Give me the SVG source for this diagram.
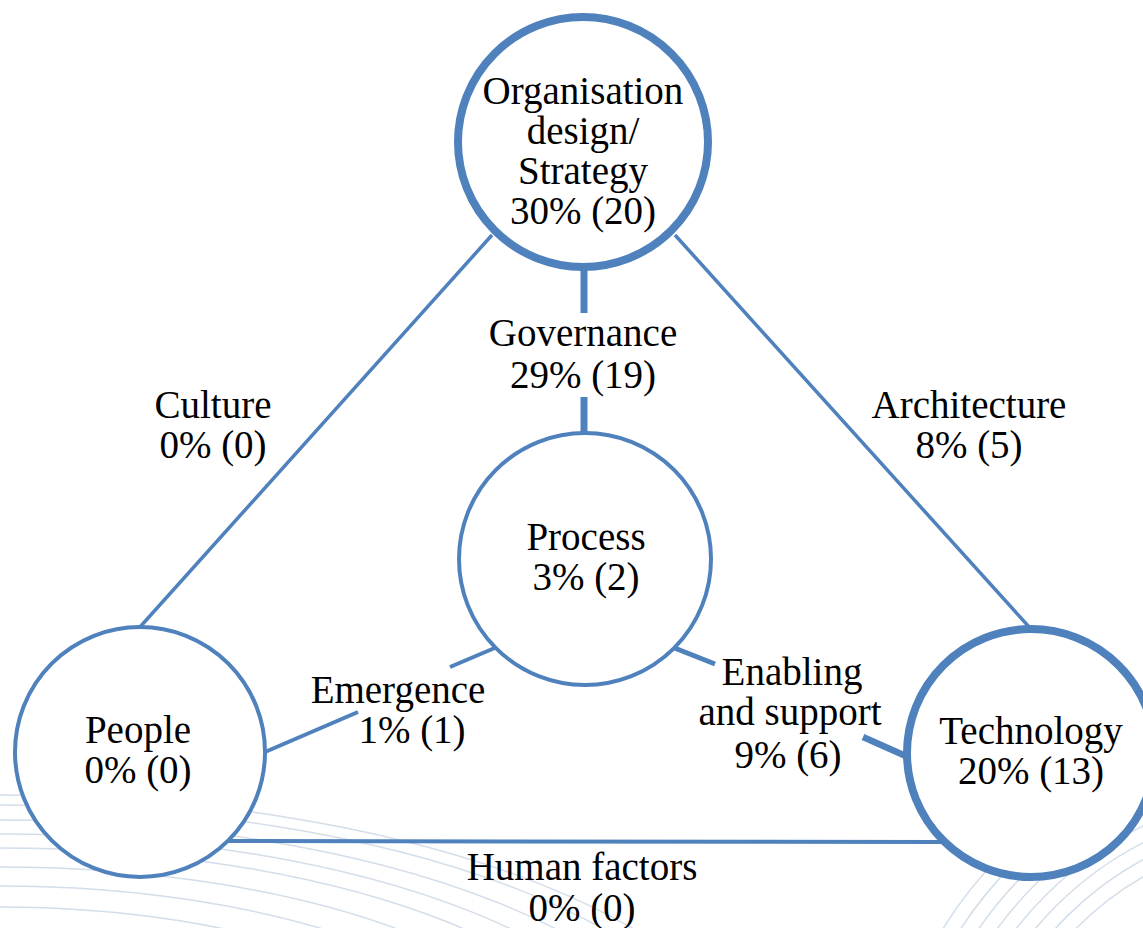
<svg xmlns="http://www.w3.org/2000/svg" width="1143" height="928" viewBox="0 0 1143 928">
<style>
.bg{fill:none;stroke:#d3deea;stroke-width:1.5}
.c{fill:#ffffff;stroke:#4f81bd}
.e{stroke:#4f81bd;fill:none}
.t{font-family:'Liberation Serif','DejaVu Serif',serif;font-size:39px;fill:#000000;text-anchor:middle}
</style>
<rect width="1143" height="928" fill="#ffffff"/>
<g id="background">
<ellipse class="bg" cx="0" cy="1100" rx="765" ry="305"/>
<ellipse class="bg" cx="0" cy="1100" rx="740" ry="295"/>
<ellipse class="bg" cx="0" cy="1100" rx="702" ry="280"/>
<ellipse class="bg" cx="0" cy="1100" rx="667" ry="266"/>
<ellipse class="bg" cx="0" cy="1100" rx="632" ry="252"/>
<ellipse class="bg" cx="0" cy="1100" rx="585" ry="233"/>
<ellipse class="bg" cx="0" cy="1100" rx="537" ry="214"/>
<ellipse class="bg" cx="0" cy="1100" rx="484" ry="193"/>
<circle class="bg" cx="1300" cy="1150" r="420"/>
<circle class="bg" cx="1300" cy="1150" r="405"/>
<circle class="bg" cx="1300" cy="1150" r="390"/>
<circle class="bg" cx="1300" cy="1150" r="375"/>
<circle class="bg" cx="1300" cy="1150" r="360"/>
<circle class="bg" cx="1300" cy="1150" r="345"/>
<circle class="bg" cx="1300" cy="1150" r="330"/>
<circle class="bg" cx="1300" cy="1150" r="315"/>
</g>
<g id="connectors">
<line class="e" x1="492" y1="235" x2="140" y2="627" stroke-width="3.5"/>
<line class="e" x1="675" y1="235" x2="1030" y2="628" stroke-width="3.5"/>
<line class="e" x1="584" y1="265" x2="584" y2="313" stroke-width="7"/>
<line class="e" x1="584" y1="397" x2="584" y2="436" stroke-width="7"/>
<line class="e" x1="265" y1="752" x2="358" y2="712" stroke-width="4"/>
<line class="e" x1="450" y1="667" x2="497" y2="647" stroke-width="4"/>
<line class="e" x1="672" y1="647" x2="715" y2="664" stroke-width="5"/>
<line class="e" x1="863" y1="737" x2="908" y2="757" stroke-width="6.5"/>
<line class="e" x1="226" y1="841" x2="943" y2="842" stroke-width="4"/>
</g>
<g id="node-organisation">
<circle class="c" cx="583" cy="142" r="125" stroke-width="8"/>
<text class="t" x="583" y="104">Organisation</text>
<text class="t" x="583" y="144">design/</text>
<text class="t" x="583" y="184">Strategy</text>
<text class="t" x="583" y="224">30% (20)</text>
</g>
<g id="node-process">
<circle class="c" cx="585" cy="559" r="126" stroke-width="4"/>
<text class="t" x="586" y="550">Process</text>
<text class="t" x="586" y="590">3% (2)</text>
</g>
<g id="node-people">
<circle class="c" cx="140" cy="752" r="125" stroke-width="4"/>
<text class="t" x="138" y="743">People</text>
<text class="t" x="138" y="783">0% (0)</text>
</g>
<g id="node-technology">
<circle class="c" cx="1031" cy="753" r="124" stroke-width="8"/>
<text class="t" x="1031" y="744">Technology</text>
<text class="t" x="1031" y="784">20% (13)</text>
</g>
<g id="labels">
<text class="t" x="583" y="346">Governance</text>
<text class="t" x="583" y="388">29% (19)</text>
<text class="t" x="213" y="418">Culture</text>
<text class="t" x="213" y="458">0% (0)</text>
<text class="t" x="969" y="418">Architecture</text>
<text class="t" x="969" y="458">8% (5)</text>
<text class="t" x="398" y="703">Emergence</text>
<text class="t" x="412" y="743">1% (1)</text>
<text class="t" x="792" y="685">Enabling</text>
<text class="t" x="790" y="725">and support</text>
<text class="t" x="788" y="768">9% (6)</text>
<text class="t" x="582" y="880">Human factors</text>
<text class="t" x="582" y="921">0% (0)</text>
</g>
</svg>
